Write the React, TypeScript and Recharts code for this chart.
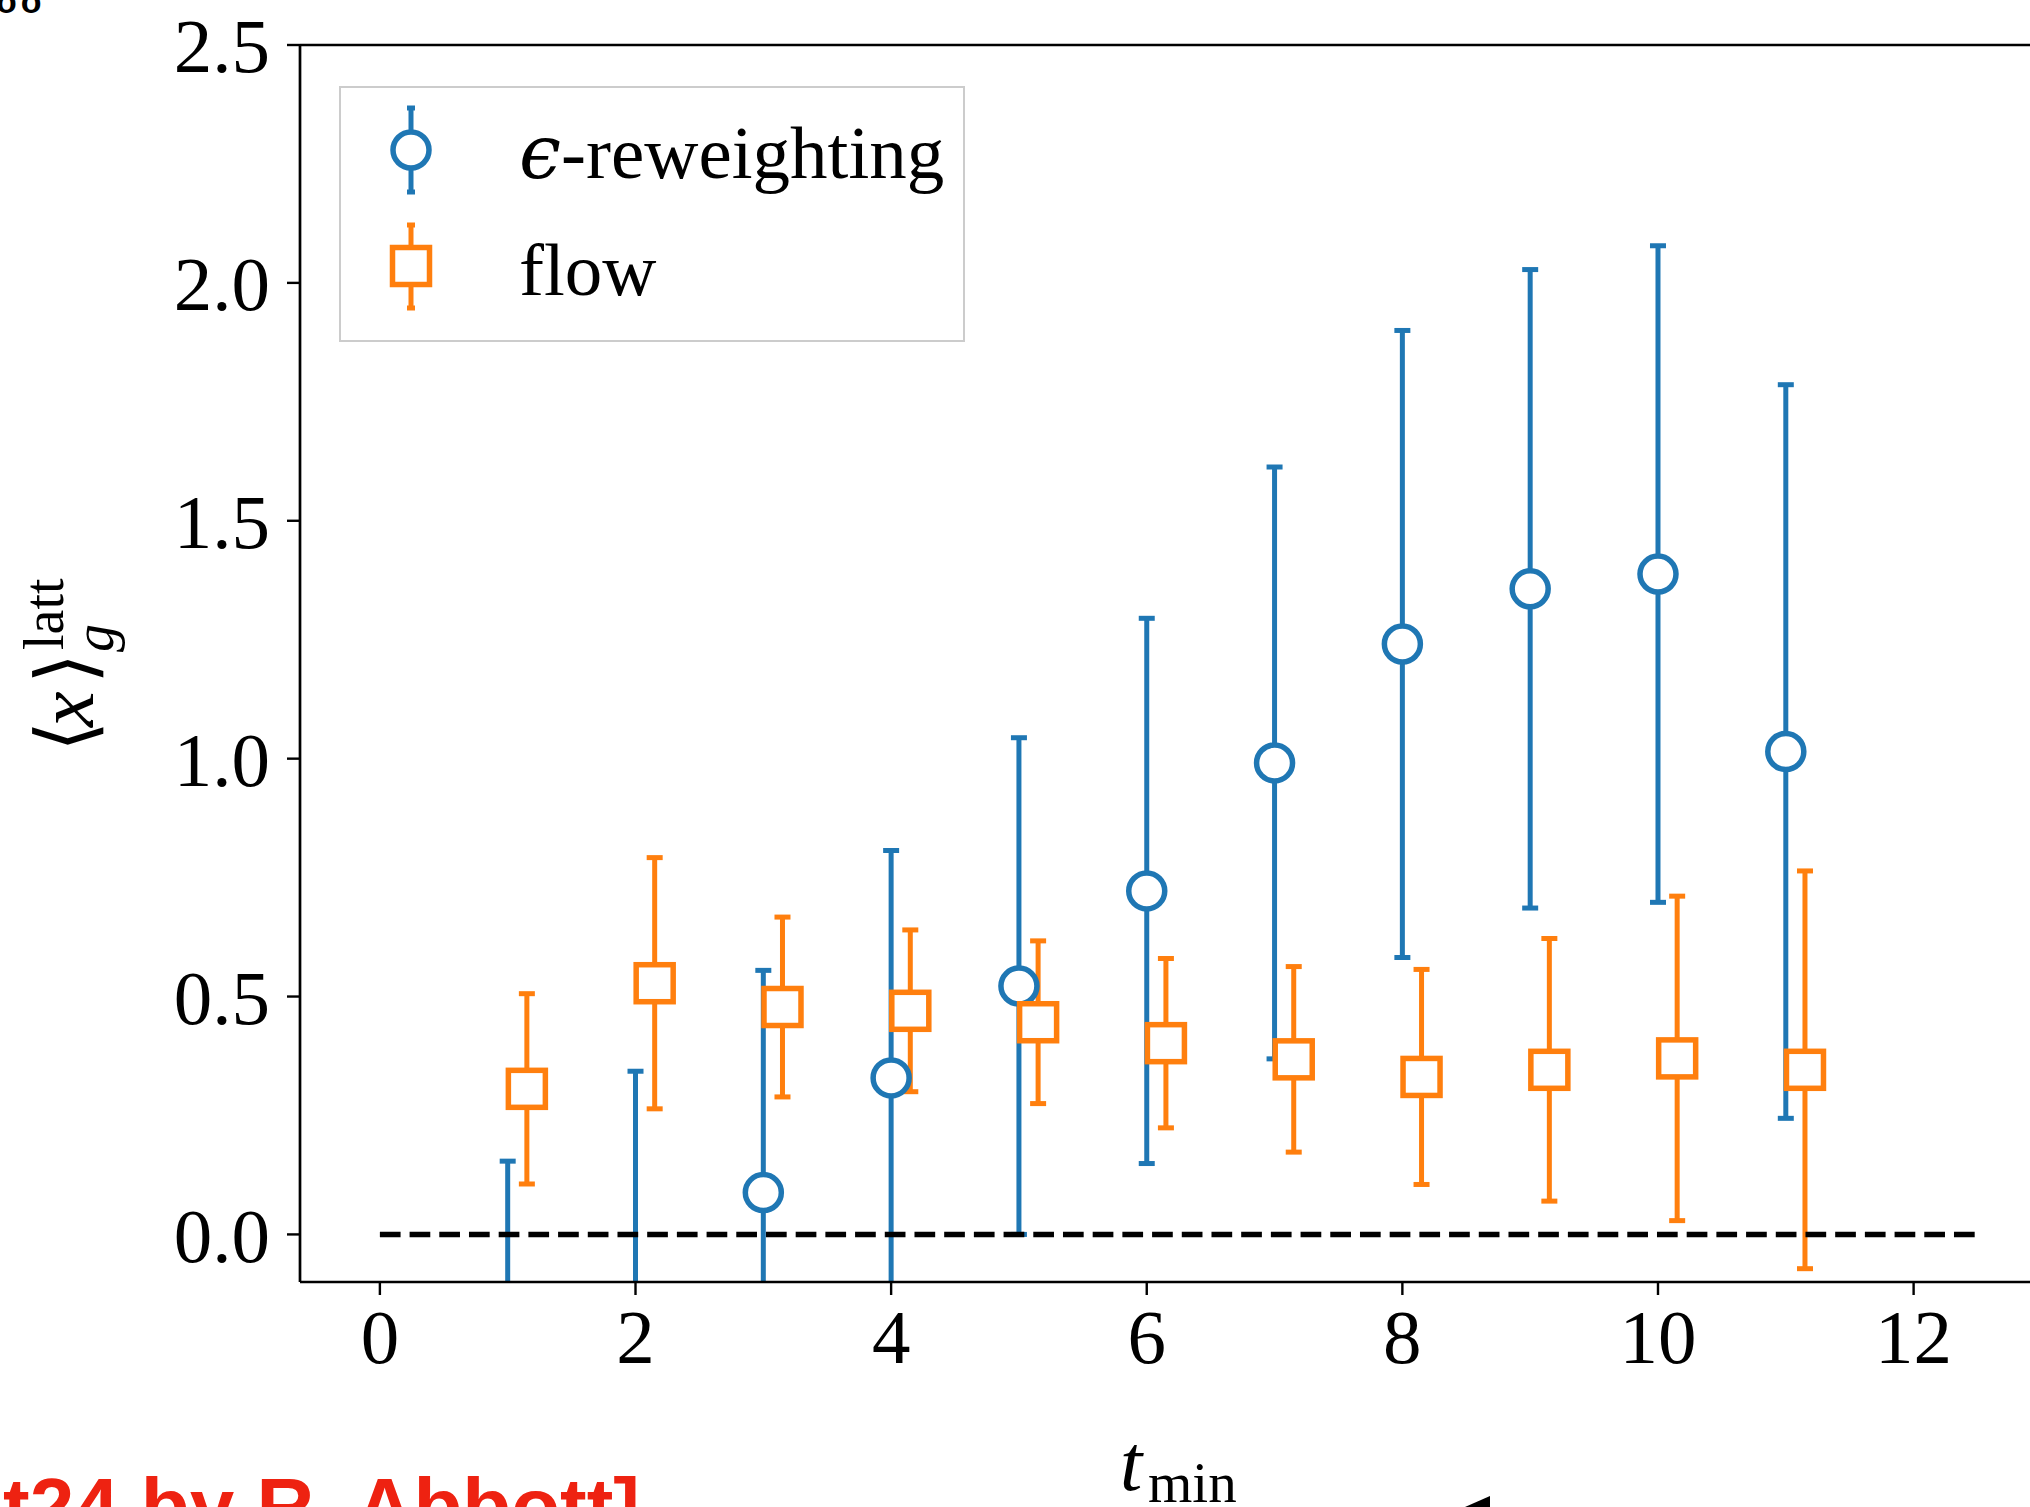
import { ScatterChart, Scatter, XAxis, YAxis, ErrorBar, ReferenceLine, Legend } from "recharts";

// t_min values shared by both estimators; flow points are nudged right so the bars don't overlap
const tMin = [1, 2, 3, 4, 5, 6, 7, 8, 9, 10, 11];
const flowShift = 0.15;

const reweightMean = [-0.3, -0.2, 0.088, 0.329, 0.522, 0.722, 0.991, 1.241, 1.357, 1.388, 1.015];
const reweightErr = [0.454, 0.543, 0.467, 0.478, 0.522, 0.573, 0.622, 0.659, 0.671, 0.69, 0.771];

const flowMean = [0.306, 0.528, 0.478, 0.47, 0.446, 0.402, 0.368, 0.331, 0.346, 0.37, 0.346];
const flowErr = [0.2, 0.264, 0.189, 0.17, 0.171, 0.178, 0.195, 0.226, 0.276, 0.341, 0.418];

const xTicks = [0, 2, 4, 6, 8, 10, 12];
const yTicks = [0, 0.5, 1, 1.5, 2, 2.5];
const zeroLineSpan = [0, 12.5];

const BLUE = "#1f77b4";
const ORANGE = "#ff7f0e";
const SERIF = "'Liberation Serif', 'DejaVu Serif', serif";
const MATH = "'DejaVu Serif', 'Liberation Serif', serif";

// plot box inside the chart svg (left, top, width, height)
const PLOT = { x: 300, y: 45, w: 1757.4, h: 1237 };

const reweightPoints = tMin.map((t, i) => ({ x: t, y: reweightMean[i], err: reweightErr[i] }));
const flowPoints = tMin.map((t, i) => ({ x: t + flowShift, y: flowMean[i], err: flowErr[i] }));

const Ring = (p: any) => (
  <circle cx={p.cx} cy={p.cy} r={18} fill="#fff" stroke={BLUE} strokeWidth={5.5} />
);
const Box = (p: any) => (
  <rect x={p.cx - 18.5} y={p.cy - 18.5} width={37} height={37} fill="#fff" stroke={ORANGE} strokeWidth={5.5} />
);

function LegendBox() {
  return (
    <svg width={626} height={256} style={{ display: "block" }}>
      <rect x={1} y={1} width={624} height={254} fill="#fff" stroke="#cccccc" strokeWidth={2} />
      <g stroke={BLUE} strokeWidth={5}>
        <line x1={72} y1={22} x2={72} y2={106} />
        <line x1={68} y1={22} x2={76} y2={22} />
        <line x1={68} y1={106} x2={76} y2={106} />
      </g>
      <circle cx={72} cy={64} r={18} fill="#fff" stroke={BLUE} strokeWidth={5.5} />
      <g stroke={ORANGE} strokeWidth={5}>
        <line x1={72} y1={139} x2={72} y2={222} />
        <line x1={68} y1={139} x2={76} y2={139} />
        <line x1={68} y1={222} x2={76} y2={222} />
      </g>
      <rect x={53.5} y={161.5} width={37} height={37} fill="#fff" stroke={ORANGE} strokeWidth={5.5} />
      <text x={180} y={92} fontSize={75} fontFamily={SERIF} fill="#000">
        <tspan fontStyle="italic" fontFamily={MATH}>ϵ</tspan>
        <tspan>-reweighting</tspan>
      </text>
      <text x={180} y={209} fontSize={75} fontFamily={SERIF} fill="#000">flow</text>
    </svg>
  );
}

export default function App() {
  return (
    <div style={{ position: "absolute", left: 0, top: 0, width: 2030, height: 1507, overflow: "hidden", background: "#fff" }}>
      {/* error bars are not clipped by recharts, so cut them at the axes box */}
      <style>{`.recharts-errorBars, .recharts-errorBar { clip-path: url(#plot-area); }`}</style>
      <svg width={0} height={0} style={{ position: "absolute" }}>
        <defs>
          <clipPath id="plot-area" clipPathUnits="userSpaceOnUse">
            <rect x={PLOT.x} y={PLOT.y} width={PLOT.w} height={PLOT.h} />
          </clipPath>
        </defs>
      </svg>

      <ScatterChart width={2100} height={1507} margin={{ top: 45, right: 42.6, bottom: 75, left: 50 }}>
        <XAxis
          type="number"
          dataKey="x"
          domain={[-0.625, 13.125]}
          allowDataOverflow
          ticks={xTicks}
          height={150}
          tickSize={13}
          tickMargin={13}
          axisLine={{ stroke: "#000", strokeWidth: 2.7 }}
          tickLine={{ stroke: "#000", strokeWidth: 2.4 }}
          tick={{ fill: "#000", fontSize: 77, fontFamily: SERIF }}
        />
        <YAxis
          type="number"
          dataKey="y"
          domain={[-0.1, 2.5]}
          allowDataOverflow
          ticks={yTicks}
          width={250}
          tickSize={13}
          tickMargin={17}
          tickFormatter={(v: number) => v.toFixed(1)}
          axisLine={{ stroke: "#000", strokeWidth: 2.7 }}
          tickLine={{ stroke: "#000", strokeWidth: 2.4 }}
          tick={{ fill: "#000", fontSize: 77, fontFamily: SERIF }}
        />
        <ReferenceLine y={2.5} stroke="#000" strokeWidth={2.7} />
        <ReferenceLine x={13.125} stroke="#000" strokeWidth={2.7} />
        <Scatter name="reweighting" data={reweightPoints} shape={Ring} isAnimationActive={false}>
          <ErrorBar dataKey="err" direction="y" width={8} strokeWidth={5} stroke={BLUE} isAnimationActive={false} />
        </Scatter>
        <Scatter name="flow" data={flowPoints} shape={Box} isAnimationActive={false}>
          <ErrorBar dataKey="err" direction="y" width={8} strokeWidth={5} stroke={ORANGE} isAnimationActive={false} />
        </Scatter>
        <ReferenceLine
          segment={[
            { x: zeroLineSpan[0], y: 0 },
            { x: zeroLineSpan[1], y: 0 },
          ]}
          stroke="#000"
          strokeWidth={5.5}
          strokeDasharray="20.7 9"
        />
        <Legend
          layout="vertical"
          align="center"
          verticalAlign="middle"
          wrapperStyle={{ left: 339, top: 86, width: 626, height: 256 }}
          content={() => <LegendBox />}
        />
      </ScatterChart>

      <svg width={2030} height={1507} style={{ position: "absolute", left: 0, top: 0, pointerEvents: "none" }}>
        {/* y label: <x>_g^latt, rotated */}
        <g transform="translate(93 752) rotate(-90)" fill="#000">
          <text x={0} y={0} fontSize={80} fontFamily="'DejaVu Sans', sans-serif">⟨</text>
          <text x={25} y={0} fontSize={80} fontFamily={SERIF} fontStyle="italic">x</text>
          <text x={68} y={0} fontSize={80} fontFamily="'DejaVu Sans', sans-serif">⟩</text>
          <text x={102} y={-30} fontSize={56} fontFamily={SERIF}>latt</text>
          <text x={100} y={20} fontSize={56} fontFamily={SERIF} fontStyle="italic">g</text>
        </g>
        {/* x label: t_min */}
        <text x={1120} y={1490} fontSize={80} fontFamily={SERIF} fontStyle="italic" fill="#000">t</text>
        <text x={1148} y={1502} fontSize={57} fontFamily={SERIF} fill="#000">min</text>
        {/* slide annotations around the figure */}
        <text x={640} y={1534} fontSize={80} fontWeight="bold" fontFamily="'Liberation Sans', Arial, sans-serif" fill="#ee2211" textAnchor="end">
          [Lat24 by R. Abbott]
        </text>
        <polygon points="1465,1507 1490,1496 1490,1507" fill="#000" />
        <text x={-4} y={13} fontSize={34} fontWeight="bold" letterSpacing={4} fontFamily="'Liberation Sans', Arial, sans-serif" fill="#000">
          oo
        </text>
      </svg>
    </div>
  );
}
